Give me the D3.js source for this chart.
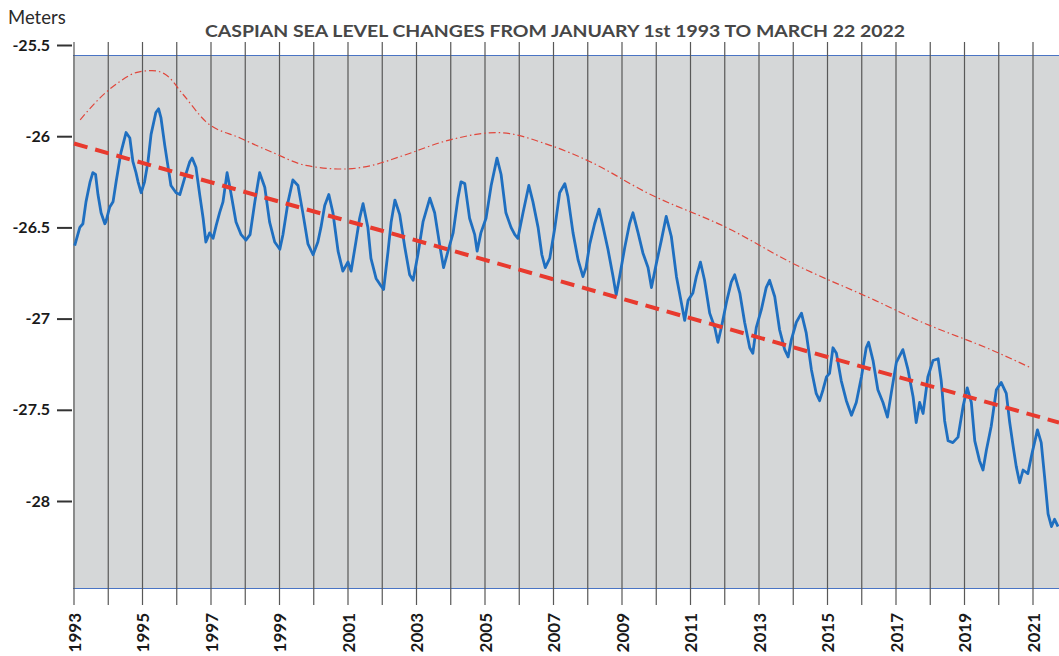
<!DOCTYPE html>
<html>
<head>
<meta charset="utf-8">
<script src="https://cdn.jsdelivr.net/npm/d3@7"></script>
<style>
  body { margin: 0; background: #fff; }
  svg { display: block; }
</style>
</head>
<body>
<svg id="chart" width="1059" height="656"></svg>
<script>
// Year gridlines and the labelled (odd) years along the bottom
const gridYears = d3.range(1993, 2023);
const labelYears = d3.range(1993, 2022, 2);
// Level ticks on the left, metres
const meterTicks = [-25.5, -26, -26.5, -27, -27.5, -28];

// Caspian sea level, [decimal year, metres]
const seaLevel = [
  [1993.02,-26.60],[1993.17,-26.50],[1993.26,-26.48],[1993.35,-26.36],[1993.47,-26.25],[1993.55,-26.20],
  [1993.63,-26.21],[1993.70,-26.32],[1993.79,-26.42],[1993.90,-26.48],[1993.93,-26.47],[1994.04,-26.39],
  [1994.14,-26.36],[1994.23,-26.25],[1994.37,-26.09],[1994.52,-25.98],[1994.63,-26.01],[1994.72,-26.14],
  [1994.81,-26.20],[1994.87,-26.25],[1994.96,-26.31],[1995.06,-26.25],[1995.16,-26.14],[1995.25,-25.99],
  [1995.39,-25.87],[1995.47,-25.85],[1995.54,-25.90],[1995.65,-26.05],[1995.74,-26.16],[1995.83,-26.27],
  [1995.98,-26.31],[1996.09,-26.32],[1996.23,-26.23],[1996.38,-26.14],[1996.45,-26.12],[1996.56,-26.17],
  [1996.67,-26.32],[1996.77,-26.45],[1996.85,-26.58],[1996.96,-26.53],[1997.06,-26.56],[1997.15,-26.49],
  [1997.25,-26.42],[1997.35,-26.36],[1997.47,-26.20],[1997.58,-26.31],[1997.73,-26.47],[1997.88,-26.54],
  [1998.02,-26.57],[1998.14,-26.54],[1998.28,-26.36],[1998.42,-26.20],[1998.57,-26.28],[1998.71,-26.47],
  [1998.86,-26.58],[1999.01,-26.62],[1999.10,-26.54],[1999.25,-26.36],[1999.39,-26.24],[1999.54,-26.27],
  [1999.69,-26.43],[1999.83,-26.59],[1999.98,-26.65],[2000.12,-26.58],[2000.21,-26.50],[2000.32,-26.38],
  [2000.44,-26.32],[2000.56,-26.42],[2000.71,-26.63],[2000.85,-26.74],[2001.00,-26.69],[2001.09,-26.74],
  [2001.23,-26.58],[2001.34,-26.45],[2001.44,-26.37],[2001.58,-26.50],[2001.67,-26.67],[2001.82,-26.78],
  [2001.96,-26.82],[2002.04,-26.84],[2002.17,-26.63],[2002.26,-26.47],[2002.37,-26.35],[2002.51,-26.43],
  [2002.66,-26.61],[2002.80,-26.76],[2002.90,-26.79],[2003.04,-26.65],[2003.19,-26.47],[2003.39,-26.34],
  [2003.53,-26.42],[2003.68,-26.60],[2003.79,-26.72],[2003.92,-26.63],[2004.07,-26.53],[2004.21,-26.34],
  [2004.30,-26.25],[2004.41,-26.26],[2004.55,-26.45],[2004.70,-26.54],[2004.77,-26.63],[2004.88,-26.53],
  [2005.03,-26.45],[2005.18,-26.27],[2005.35,-26.12],[2005.47,-26.21],[2005.61,-26.42],[2005.76,-26.50],
  [2005.87,-26.54],[2005.96,-26.56],[2006.11,-26.42],[2006.28,-26.27],[2006.40,-26.36],[2006.55,-26.50],
  [2006.66,-26.65],[2006.76,-26.72],[2006.89,-26.67],[2007.04,-26.50],[2007.18,-26.31],[2007.33,-26.26],
  [2007.42,-26.33],[2007.57,-26.53],[2007.72,-26.68],[2007.86,-26.77],[2007.95,-26.72],[2008.06,-26.59],
  [2008.20,-26.48],[2008.33,-26.40],[2008.45,-26.50],[2008.59,-26.62],[2008.74,-26.77],[2008.83,-26.87],
  [2008.93,-26.77],[2009.08,-26.61],[2009.22,-26.48],[2009.32,-26.42],[2009.47,-26.53],[2009.61,-26.64],
  [2009.76,-26.72],[2009.86,-26.83],[2010.00,-26.70],[2010.15,-26.57],[2010.29,-26.44],[2010.44,-26.55],
  [2010.59,-26.77],[2010.73,-26.91],[2010.83,-27.01],[2010.93,-26.90],[2011.07,-26.86],[2011.17,-26.77],
  [2011.29,-26.69],[2011.41,-26.79],[2011.56,-26.97],[2011.71,-27.05],[2011.80,-27.13],[2011.90,-27.05],
  [2012.05,-26.91],[2012.19,-26.80],[2012.29,-26.76],[2012.44,-26.86],[2012.58,-27.02],[2012.73,-27.16],
  [2012.82,-27.19],[2012.92,-27.05],[2013.07,-26.95],[2013.21,-26.83],[2013.31,-26.79],[2013.46,-26.88],
  [2013.60,-27.06],[2013.75,-27.17],[2013.85,-27.21],[2013.94,-27.12],[2014.09,-27.02],[2014.24,-26.97],
  [2014.38,-27.08],[2014.53,-27.28],[2014.67,-27.41],[2014.77,-27.45],[2014.87,-27.39],[2014.97,-27.32],
  [2015.06,-27.30],[2015.16,-27.16],[2015.26,-27.19],[2015.40,-27.34],[2015.55,-27.45],[2015.70,-27.53],
  [2015.84,-27.46],[2015.99,-27.32],[2016.13,-27.16],[2016.20,-27.13],[2016.33,-27.23],[2016.47,-27.39],
  [2016.62,-27.46],[2016.75,-27.54],[2016.86,-27.41],[2017.01,-27.24],[2017.20,-27.17],[2017.35,-27.28],
  [2017.50,-27.43],[2017.59,-27.57],[2017.69,-27.46],[2017.79,-27.52],[2017.93,-27.32],[2018.08,-27.23],
  [2018.23,-27.22],[2018.32,-27.34],[2018.42,-27.56],[2018.52,-27.67],[2018.66,-27.68],[2018.81,-27.65],
  [2018.96,-27.48],[2019.08,-27.38],[2019.20,-27.46],[2019.30,-27.67],[2019.44,-27.78],[2019.54,-27.83],
  [2019.64,-27.72],[2019.78,-27.59],[2019.93,-27.39],[2020.07,-27.35],[2020.22,-27.41],[2020.32,-27.57],
  [2020.42,-27.70],[2020.51,-27.81],[2020.61,-27.90],[2020.71,-27.83],[2020.85,-27.85],[2020.97,-27.74],
  [2021.13,-27.61],[2021.24,-27.68],[2021.34,-27.87],[2021.44,-28.07],[2021.54,-28.14],[2021.63,-28.10],
  [2021.73,-28.14]
];

// Upper envelope of the seasonal highs
const envelope = [
  [1993.18,-25.91],[1993.76,-25.79],[1994.34,-25.70],[1994.84,-25.65],[1995.28,-25.64],[1995.66,-25.66],
  [1996.18,-25.77],[1996.85,-25.92],[1997.85,-26.01],[1998.81,-26.09],[1999.77,-26.16],[2000.85,-26.18],
  [2001.70,-26.16],[2002.55,-26.11],[2003.98,-26.02],[2005.35,-25.98],[2006.90,-26.05],[2008.07,-26.14],
  [2009.73,-26.31],[2012.15,-26.51],[2013.91,-26.69],[2016.39,-26.90],[2017.64,-27.01],[2019.89,-27.18],
  [2020.94,-27.27]
];

// Long-term linear trend
const trend = [[1993.0,-26.04],[2021.76,-27.57]];

const W = 1059, H = 656;
const plotLeft = 73, plotTop = 55, plotBottom = 588;
const gridTop = 42, gridBottom = 605;

const svg = d3.select("#chart");

const x = d3.scaleLinear().domain([1993, 2021]).range([74, 1033]);
const y = d3.scaleLinear().domain([-25.5, -28]).range([45, 501]);

// Plot background
svg.append("rect")
  .attr("x", plotLeft).attr("y", plotTop)
  .attr("width", W - plotLeft).attr("height", plotBottom - plotTop)
  .attr("fill", "#d5d7d8");

// Thin blue frame lines, top and bottom
svg.append("g").selectAll("line")
  .data([plotTop, plotBottom])
  .join("line")
  .attr("x1", plotLeft).attr("x2", W)
  .attr("y1", d => d + 0.5).attr("y2", d => d + 0.5)
  .attr("stroke", "#4a74c4").attr("stroke-width", 1.2);

// Vertical year lines
svg.append("g").selectAll("line")
  .data(gridYears.filter(yr => x(yr) <= W))
  .join("line")
  .attr("x1", d => x(d)).attr("x2", d => x(d))
  .attr("y1", gridTop).attr("y2", gridBottom)
  .attr("stroke", "#585858").attr("stroke-width", 1.2);

// Left axis: ticks and labels only
const yAxis = svg.append("g")
  .attr("transform", `translate(72,0)`)
  .call(d3.axisLeft(y).tickValues(meterTicks).tickSize(15).tickPadding(7)
        .tickFormat(d => String(d)));
yAxis.select(".domain").remove();
yAxis.selectAll("line").attr("stroke", "#333").attr("stroke-width", 2);
yAxis.selectAll("text")
  .attr("fill", "#1a1a1a")
  .style("font-family", "Lato, 'Open Sans', sans-serif")
  .style("font-weight", "700")
  .style("font-size", "16px");

// Bottom axis: rotated year labels
const xAxis = svg.append("g")
  .attr("transform", `translate(0,${gridBottom})`)
  .call(d3.axisBottom(x).tickValues(labelYears).tickSize(0).tickFormat(d3.format("d")));
xAxis.select(".domain").remove();
xAxis.selectAll("text")
  .attr("transform", "rotate(-90)")
  .attr("text-anchor", "end")
  .attr("x", -8).attr("y", 0).attr("dy", "0.36em")
  .attr("fill", "#1a1a1a")
  .style("font-family", "Lato, 'Open Sans', sans-serif")
  .style("font-weight", "700")
  .style("font-size", "17px");

// Clip series to the plot box
svg.append("clipPath").attr("id", "plotClip")
  .append("rect").attr("x", plotLeft).attr("y", plotTop)
  .attr("width", W - plotLeft).attr("height", plotBottom - plotTop);

const series = svg.append("g").attr("clip-path", "url(#plotClip)");

// Envelope, thin dash-dot
series.append("path")
  .datum(envelope)
  .attr("fill", "none")
  .attr("stroke", "#e0473c")
  .attr("stroke-width", 1.2)
  .attr("stroke-dasharray", "7,3,1.5,3")
  .attr("d", d3.line().x(d => x(d[0])).y(d => y(d[1])).curve(d3.curveMonotoneX));

// Sea level
series.append("path")
  .datum(seaLevel)
  .attr("fill", "none")
  .attr("stroke", "#1f6fc0")
  .attr("stroke-width", 2.8)
  .attr("stroke-linejoin", "round")
  .attr("d", d3.line().x(d => x(d[0])).y(d => y(d[1])));

// Trend, thick red dashes
series.append("path")
  .datum(trend)
  .attr("fill", "none")
  .attr("stroke", "#e83a2e")
  .attr("stroke-width", 4)
  .attr("stroke-dasharray", "14,8")
  .attr("d", d3.line().x(d => x(d[0])).y(d => y(d[1])));

// Title and unit
svg.append("text")
  .attr("x", 555).attr("y", 37)
  .attr("text-anchor", "middle")
  .attr("textLength", 700).attr("lengthAdjust", "spacingAndGlyphs")
  .attr("fill", "#474747")
  .style("font-family", "Lato, 'Open Sans', sans-serif")
  .style("font-weight", "700")
  .style("font-size", "17px")
  .text("CASPIAN SEA LEVEL CHANGES FROM JANUARY 1st 1993 TO MARCH 22 2022");

svg.append("text")
  .attr("x", 8).attr("y", 24)
  .attr("fill", "#2a2a2a")
  .style("font-family", "Lato, 'Open Sans', sans-serif")
  .style("font-size", "18.5px")
  .text("Meters");
</script>
</body>
</html>
